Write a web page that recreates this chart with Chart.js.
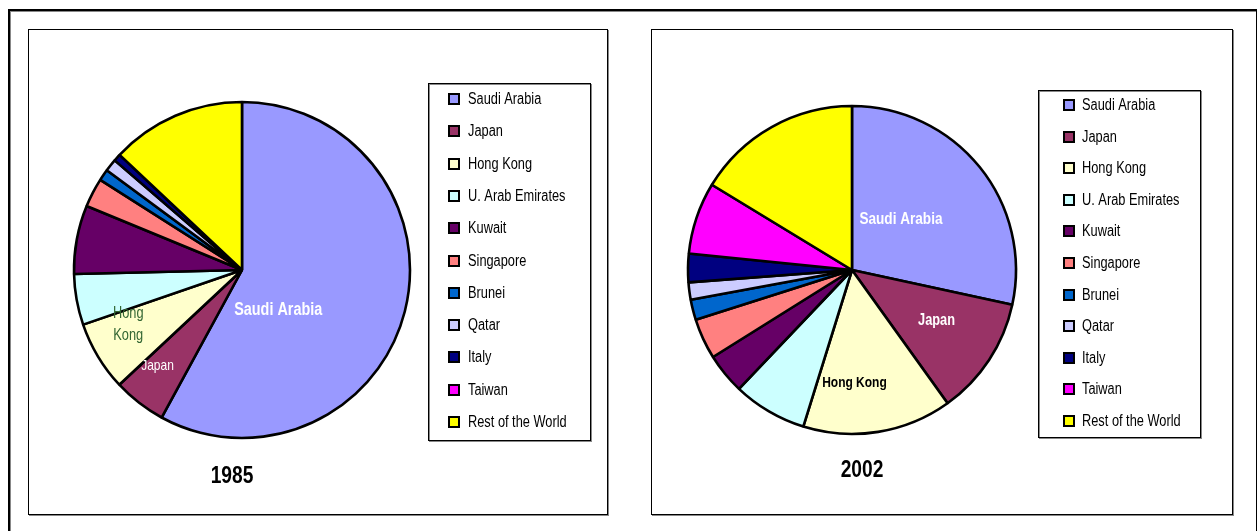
<!DOCTYPE html>
<html>
<head>
<meta charset="utf-8">
<script src="https://cdn.jsdelivr.net/npm/chart.js"></script>
<style>
  body { margin: 0; background: #fff; width: 1257px; height: 531px; overflow: hidden; position: relative; }
  .frame { position: absolute; left: 8px; top: 9px; width: 1246px; height: 540px;
           border: 2px solid #000; box-shadow: inset 1px 1px 0 #888; }
  .panel { position: absolute; top: 29px; height: 484px; border: 1px solid #000;
           box-shadow: 1px 1px 0 #888; background: #fff; }
  .panel canvas { display: block; }
</style>
</head>
<body>
<div class="frame"></div>
<div class="panel" style="left:28px; width:578px;"><canvas id="pie1985" width="578" height="484"></canvas></div>
<div class="panel" style="left:651px; width:580px;"><canvas id="pie2002" width="580" height="484"></canvas></div>
<script>
// import shares by partner, percent of total
const countries = ['Saudi Arabia', 'Japan', 'Hong Kong', 'U. Arab Emirates', 'Kuwait', 'Singapore',
                   'Brunei', 'Qatar', 'Italy', 'Taiwan', 'Rest of the World'];
const share1985 = [58.0, 5.1, 6.7, 4.9, 6.6, 2.8, 1.1, 1.2, 0.7, 0, 13.0];
const share2002 = [28.4, 11.7, 14.7, 7.3, 4.0, 4.0, 2.0, 1.7, 2.8, 7.1, 16.3];
const colors = ['#9999FF', '#993366', '#FFFFCC', '#CCFFFF', '#660066', '#FF8080',
                '#0066CC', '#CCCCFF', '#000080', '#FF00FF', '#FFFF00'];

const FONT = '"Liberation Sans", Arial, sans-serif';
const NARROW = 0.8; // squeeze text horizontally, narrow-face look

function narrowText(ctx, text, x, y) {
  ctx.save();
  ctx.translate(x, y);
  ctx.scale(NARROW, 1);
  ctx.fillText(text, 0, 0);
  ctx.restore();
}

// legend box, slice labels and year caption, drawn on top of the pie
const extras = {
  id: 'extras',
  afterDraw(chart, args, o) {
    const ctx = chart.ctx;
    const lg = o.legend;
    ctx.save();
    ctx.fillStyle = '#fff';
    ctx.fillRect(lg.x, lg.y, lg.w, lg.h);
    ctx.strokeStyle = '#888';
    ctx.lineWidth = 1;
    ctx.strokeRect(lg.x + 1.5, lg.y + 1.5, lg.w, lg.h);
    ctx.strokeStyle = '#000';
    ctx.strokeRect(lg.x + 0.5, lg.y + 0.5, lg.w, lg.h);
    ctx.font = '16px ' + FONT;
    ctx.textBaseline = 'middle';
    ctx.textAlign = 'left';
    const ds = chart.data.datasets[0];
    chart.data.labels.forEach((label, i) => {
      const cy = Math.round(lg.firstY + i * lg.step);
      ctx.fillStyle = '#000';
      ctx.fillRect(lg.boxX, cy - 6, 12, 12);
      ctx.fillStyle = ds.backgroundColor[i];
      ctx.fillRect(lg.boxX + 2, cy - 4, 8, 8);
      ctx.fillStyle = '#000';
      narrowText(ctx, label, lg.textX, cy + 1);
    });

    // labels inside slices
    const meta = chart.getDatasetMeta(0);
    ctx.textAlign = 'center';
    o.sliceLabels.forEach(s => {
      const arc = meta.data[s.index];
      const p = arc.getProps(['x', 'y', 'startAngle', 'endAngle', 'outerRadius'], true);
      const ang = p.startAngle + s.a * (p.endAngle - p.startAngle);
      const lx = p.x + Math.cos(ang) * s.r * p.outerRadius;
      const ly = p.y + Math.sin(ang) * s.r * p.outerRadius;
      ctx.font = (s.bold ? 'bold ' : '') + s.size + 'px ' + FONT;
      ctx.fillStyle = s.color;
      const lines = s.lines || [chart.data.labels[s.index]];
      const lh = s.size + 6;
      lines.forEach((t, k) => narrowText(ctx, t, lx, ly + (k - (lines.length - 1) / 2) * lh));
    });

    ctx.font = 'bold 24px ' + FONT;
    ctx.fillStyle = '#000';
    narrowText(ctx, o.caption.text, o.caption.x, o.caption.y);
    ctx.restore();
  }
};

function makePie(id, values, radius, padRight, legend, sliceLabels, caption) {
  return new Chart(document.getElementById(id), {
    type: 'pie',
    data: {
      labels: countries,
      datasets: [{
        data: values,
        backgroundColor: colors,
        borderColor: '#000',
        borderWidth: 2.6,
        hoverBorderWidth: 2.6,
        hoverOffset: 0,
        offset: 0
      }]
    },
    options: {
      responsive: false,
      devicePixelRatio: 1,
      animation: false,
      radius: radius,
      layout: { padding: { left: 0, top: 0, right: padRight, bottom: 4 } },
      events: [],
      plugins: {
        legend: { display: false },
        tooltip: { enabled: false },
        extras: { legend, sliceLabels, caption }
      }
    },
    plugins: [extras]
  });
}

makePie('pie1985', share1985, 168, 152,
  { x: 399, y: 53, w: 162, h: 357, firstY: 69, step: 32.3, boxX: 419, textX: 439 },
  [
    { index: 0, r: 0.32, a: 0.66, color: '#fff', bold: true, size: 18 },
    { index: 2, r: 0.75, a: 0.73, color: '#336633', bold: false, size: 16, lines: ['Hong', 'Kong'] },
    { index: 1, r: 0.76, a: 0.70, color: '#fff', bold: false, size: 15 }
  ],
  { text: '1985', x: 203, y: 446 });

makePie('pie2002', share2002, 164, 180,
  { x: 386, y: 60, w: 162, h: 347, firstY: 75, step: 31.6, boxX: 411, textX: 430 },
  [
    { index: 0, r: 0.43, a: 0.43, color: '#fff', bold: true, size: 17 },
    { index: 1, r: 0.60, a: 0.44, color: '#fff', bold: true, size: 16 },
    { index: 2, r: 0.69, a: 0.65, color: '#000', bold: true, size: 15 }
  ],
  { text: '2002', x: 210, y: 440 });
</script>
</body>
</html>
